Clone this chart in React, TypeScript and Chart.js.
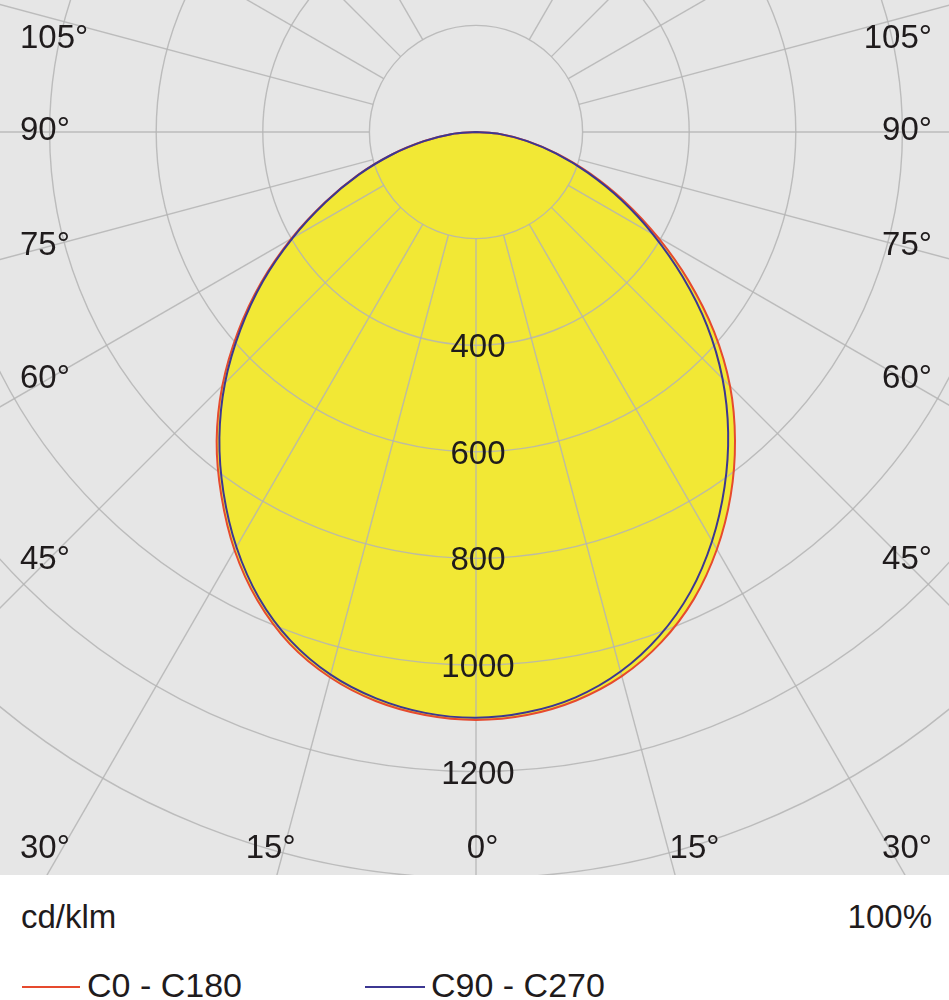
import React, { useEffect, useRef } from 'react';
import { Chart, registerables } from 'chart.js';

Chart.register(...registerables);

// ---- data (cd/klm) ----
const gammaAngles = [0, 5, 10, 15, 20, 25, 30, 35, 40, 45, 50, 55, 60, 65, 70, 75, 80, 85, 90];
const c0Values = [1103, 1098, 1083, 1057, 1018, 967, 904, 833, 756, 674, 583, 487, 393, 307, 228, 158, 98, 47, 0];
const c180Values = [1103, 1098, 1084, 1059, 1022, 970, 906, 833, 757, 673, 583, 492, 400, 313, 236, 164, 100, 47, 0];
const c90Values = [1099, 1093, 1077, 1048, 1006, 952, 886, 813, 736, 654, 566, 473, 383, 300, 223, 155, 96, 46, 0];
const c270Values = [1099, 1094, 1079, 1054, 1016, 964, 899, 826, 749, 666, 577, 488, 397, 311, 234, 163, 99, 47, 0];

const ringValues = [200, 400, 600, 800, 1000, 1200, 1400];
const ringLabelValues = [400, 600, 800, 1000, 1200];
const spokeAngles = [-150, -135, -120, -105, -90, -75, -60, -45, -30, -15, 0, 15, 30, 45, 60, 75, 90, 105, 120, 135, 150];
const sideLabelAngles = [105, 90, 75, 60, 45];
const bottomLabelAngles = [30, 15, 0];
const seriesNames = ['C0 - C180', 'C90 - C270'];
const unitLabel = 'cd/klm';
const percentLabel = '100%';

// ---- styles / layout ----
const W = 949;
const FRAME_H = 875;
const CX = 476;
const CY = 132;
const PX_PER_UNIT = 0.533;
const BG = '#e6e6e6';
const YELLOW = '#f2e835';
const GRID = 'rgba(180,180,180,0.85)';
const RED = '#e64a2e';
const BLUE = '#3c3792';
const TEXT = '#1f1b1c';
const FONT = '"Liberation Sans", Arial, Helvetica, sans-serif';
const LABEL_PX = 33;

function toXY(right: number[], left: number[]) {
  const pts: { x: number; y: number }[] = [];
  for (let i = gammaAngles.length - 1; i >= 0; i--) {
    const t = (gammaAngles[i] * Math.PI) / 180;
    pts.push({ x: -left[i] * Math.sin(t), y: -left[i] * Math.cos(t) });
  }
  for (let i = 1; i < gammaAngles.length; i++) {
    const t = (gammaAngles[i] * Math.PI) / 180;
    pts.push({ x: right[i] * Math.sin(t), y: -right[i] * Math.cos(t) });
  }
  return pts;
}

const polarPlugin = {
  id: 'polarGrid',
  beforeDraw(chart: any) {
    const { ctx, chartArea: a } = chart;
    ctx.save();
    ctx.fillStyle = BG;
    ctx.fillRect(a.left, a.top, a.right - a.left, a.bottom - a.top);
    ctx.restore();
  },
  beforeDatasetsDraw(chart: any) {
    const { ctx, chartArea: a, scales } = chart;
    const xs = scales.x;
    const ys = scales.y;
    ctx.save();
    ctx.beginPath();
    ctx.rect(a.left, a.top, a.right - a.left, a.bottom - a.top);
    ctx.clip();
    // yellow fill inside the distributions (follows the library's bezier control points)
    ctx.fillStyle = YELLOW;
    chart.data.datasets.forEach((_ds: any, i: number) => {
      const pts = chart.getDatasetMeta(i).data;
      ctx.beginPath();
      pts.forEach((p: any, j: number) => {
        if (j === 0) {
          ctx.moveTo(p.x, p.y);
        } else {
          const q = pts[j - 1];
          const c1x = q.cp2x ?? q.x;
          const c1y = q.cp2y ?? q.y;
          const c2x = p.cp1x ?? p.x;
          const c2y = p.cp1y ?? p.y;
          ctx.bezierCurveTo(c1x, c1y, c2x, c2y, p.x, p.y);
        }
      });
      ctx.closePath();
      ctx.fill();
    });
    const cx = xs.getPixelForValue(0);
    const cy = ys.getPixelForValue(0);
    ctx.strokeStyle = GRID;
    ctx.lineWidth = 1.4;
    ringValues.forEach((v) => {
      const r = Math.abs(xs.getPixelForValue(v) - cx);
      ctx.beginPath();
      ctx.arc(cx, cy, r, 0, Math.PI * 2);
      ctx.stroke();
    });
    const r0 = ringValues[0];
    const r1 = ringValues[ringValues.length - 1] * 3;
    spokeAngles.forEach((deg) => {
      const t = (deg * Math.PI) / 180;
      const dx = Math.sin(t);
      const dy = -Math.cos(t);
      ctx.beginPath();
      ctx.moveTo(xs.getPixelForValue(r0 * dx), ys.getPixelForValue(r0 * dy));
      ctx.lineTo(xs.getPixelForValue(r1 * dx), ys.getPixelForValue(r1 * dy));
      ctx.stroke();
    });
    ctx.restore();
  },
  afterDatasetsDraw(chart: any) {
    const { ctx, chartArea: a, scales } = chart;
    const xs = scales.x;
    const ys = scales.y;
    const cx = xs.getPixelForValue(0);
    const cy = ys.getPixelForValue(0);
    ctx.save();
    ctx.fillStyle = TEXT;
    ctx.font = `${LABEL_PX}px ${FONT}`;
    ctx.textBaseline = 'middle';
    // ring labels along the 0° spoke
    ctx.textAlign = 'center';
    ringLabelValues.forEach((v) => {
      ctx.fillText(String(v), cx + 2, ys.getPixelForValue(-v) + 3);
    });
    // side angle labels
    const inL = a.left + 20;
    const inR = a.right - 17;
    const xMid = 27;
    sideLabelAngles.forEach((deg) => {
      const t = (deg * Math.PI) / 180;
      const dist = cx - (inL + xMid);
      let y = cy + (deg === 90 ? 0 : dist / Math.tan(t)) - 1;
      y = Math.max(y, a.top + 39);
      const txt = `${deg}°`;
      ctx.textAlign = 'left';
      ctx.fillText(txt, inL, y);
      ctx.textAlign = 'right';
      ctx.fillText(txt, inR, y);
    });
    // bottom angle labels
    const yb = a.bottom - 26;
    const depth = 791;
    ctx.textAlign = 'left';
    bottomLabelAngles.forEach((deg) => {
      const t = (deg * Math.PI) / 180;
      const txt = `${deg}°`;
      const numW = ctx.measureText(String(deg)).width;
      const fullW = ctx.measureText(txt).width;
      const sides = deg === 0 ? [1] : [-1, 1];
      sides.forEach((s) => {
        const xc = cx + s * depth * Math.tan(t);
        let left = xc - numW / 2;
        left = Math.max(left, inL);
        left = Math.min(left, inR - fullW);
        ctx.fillText(txt, left, yb);
      });
    });
    ctx.restore();
  },
};

export default function App() {
  const canvasRef = useRef<HTMLCanvasElement | null>(null);

  useEffect(() => {
    if (!canvasRef.current) return;
    const chart = new Chart(canvasRef.current, {
      type: 'scatter',
      data: {
        datasets: [
          {
            label: seriesNames[0],
            data: toXY(c0Values, c180Values),
            showLine: true,
            borderColor: RED,
            backgroundColor: RED,
            borderWidth: 2,
            pointRadius: 0,
            tension: 0.35,
            fill: false,
            order: 2,
          },
          {
            label: seriesNames[1],
            data: toXY(c90Values, c270Values),
            showLine: true,
            borderColor: BLUE,
            backgroundColor: BLUE,
            borderWidth: 2,
            pointRadius: 0,
            tension: 0.35,
            fill: false,
            order: 1,
          },
        ],
      },
      options: {
        animation: false,
        responsive: false,
        devicePixelRatio: window.devicePixelRatio || 1,
        layout: { padding: 0 },
        events: [],
        scales: {
          x: {
            type: 'linear',
            min: -CX / PX_PER_UNIT,
            max: (W - CX) / PX_PER_UNIT,
            display: false,
          },
          y: {
            type: 'linear',
            min: -(FRAME_H - CY) / PX_PER_UNIT,
            max: CY / PX_PER_UNIT,
            display: false,
          },
        },
        plugins: {
          legend: { display: false },
          title: { display: false },
          tooltip: { enabled: false },
        },
      },
      plugins: [polarPlugin],
    });
    return () => chart.destroy();
  }, []);

  const textStyle: React.CSSProperties = {
    position: 'absolute',
    fontFamily: FONT,
    fontSize: 33,
    lineHeight: '33px',
    color: TEXT,
    whiteSpace: 'nowrap',
  };

  return (
    <div style={{ position: 'absolute', left: 0, top: 0, width: W, height: 1000, background: '#fff', overflow: 'hidden' }}>
      <canvas ref={canvasRef} width={W} height={FRAME_H} style={{ display: 'block', width: W, height: FRAME_H }} />
      <div style={{ ...textStyle, left: 21, top: 900 }}>{unitLabel}</div>
      <div style={{ ...textStyle, right: 17, top: 900 }}>{percentLabel}</div>
      <div style={{ position: 'absolute', left: 22, top: 986, width: 58, height: 2, background: RED }} />
      <div style={{ ...textStyle, fontSize: 34, lineHeight: '34px', left: 87, top: 968 }}>{seriesNames[0]}</div>
      <div style={{ position: 'absolute', left: 365, top: 986, width: 60, height: 2, background: BLUE }} />
      <div style={{ ...textStyle, fontSize: 34, lineHeight: '34px', left: 431, top: 968 }}>{seriesNames[1]}</div>
    </div>
  );
}
